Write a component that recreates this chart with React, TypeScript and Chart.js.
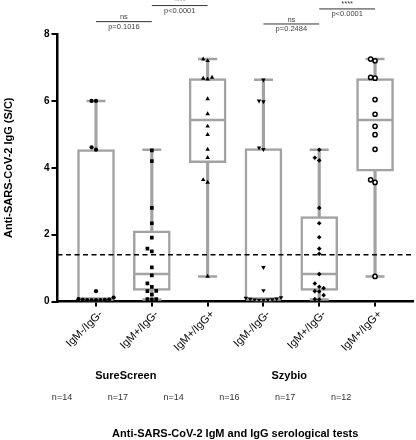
import React, { useEffect, useRef } from 'react';
import { Chart, registerables } from 'chart.js';

Chart.register(...registerables);

// ---------------- data ----------------
const categories = ['IgM-/IgG-', 'IgM+/IgG-', 'IgM+/IgG+', 'IgM-/IgG-', 'IgM+/IgG-', 'IgM+/IgG+'];
const brands = ['SureScreen', 'Szybio'];
const sampleSizes = ['n=14', 'n=17', 'n=14', 'n=16', 'n=17', 'n=12'];
const yTicks = [0, 2, 4, 6, 8];
const cutoff = 1.4;

const sureNegNeg = [6.0, 6.0, 4.61, 4.54, 0.31, 0.12, 0.07, 0.06, 0.05, 0.05, 0.04, 0.04, 0.04, 0.04];
const surePosNeg = [4.52, 4.2, 2.8, 2.34, 1.91, 1.58, 1.5, 1.02, 0.78, 0.54, 0.44, 0.32, 0.31, 0.21, 0.07, 0.07, 0.06];
const surePosPos = [7.25, 7.2, 6.7, 6.67, 6.65, 6.06, 5.61, 5.24, 4.99, 4.55, 4.3, 3.64, 3.56, 0.75];
const szyNegNeg = [6.63, 6.0, 5.98, 4.6, 4.55, 1.02, 0.33, 0.12, 0.1, 0.08, 0.07, 0.06, 0.05, 0.05, 0.04, 0.04];
const szyPosNeg = [4.54, 4.3, 4.22, 2.8, 2.34, 1.92, 1.58, 1.43, 0.82, 0.54, 0.44, 0.4, 0.31, 0.3, 0.19, 0.07, 0.06];
const szyPosPos = [7.25, 7.2, 6.7, 6.68, 6.04, 5.6, 5.24, 4.99, 4.55, 3.64, 3.56, 0.75];

const boxMin = [0.04, 0.06, 0.75, 0.04, 0.06, 0.75];
const boxQ1 = [0.06, 0.33, 4.15, 0.06, 0.33, 3.9];
const boxMedian = [0.06, 0.82, 5.43, 0.06, 0.82, 5.43];
const boxQ3 = [4.54, 2.11, 6.67, 4.57, 2.54, 6.67];
const boxMax = [6.0, 4.54, 7.25, 6.63, 4.54, 7.25];

const compFrom = [0, 1, 3, 4];
const compTo = [1, 2, 4, 5];
const compStars = ['ns', '****', 'ns', '****'];
const compP = ['p=0.1016', 'p<0.0001', 'p=0.2484', 'p<0.0001'];

const xAxisTitle = 'Anti-SARS-CoV-2 IgM and IgG serological tests';
const yAxisTitle = 'Anti-SARS-CoV-2 IgG (S/C)';

// ---------------- styling ----------------
const FONT = "'Liberation Sans', Arial, Helvetica, sans-serif";
const GRAY = '#a2a2a2';
const X_MIN = -0.69;
const X_MAX = 5.68;
const PX_PER_X = 55.8;
const PX_PER_Y = 33.44;
const compLevels = [8.37, 8.85, 8.3, 8.75];

// beeswarm-style horizontal spreading of equal-ish values (layout only)
function swarm(values: number[], center: number, diam: number, step: number) {
  const placed: { dx: number; v: number }[] = [];
  const idx = values.map((_, i) => i).sort((a, b) => values[a] - values[b]);
  const out: { x: number; y: number }[] = new Array(values.length);
  for (const i of idx) {
    const v = values[i];
    for (let k = 0; k < 60; k++) {
      const m = k === 0 ? 0 : k % 2 === 1 ? -Math.ceil(k / 2) : Math.ceil(k / 2);
      const dx = m * step;
      const ok = placed.every((p) => Math.hypot(p.dx - dx, (p.v - v) * PX_PER_Y) >= diam);
      if (ok) {
        placed.push({ dx, v });
        out[i] = { x: center + dx / PX_PER_X, y: v };
        break;
      }
    }
  }
  return out;
}

const annotations = {
  id: 'annotations',
  afterDraw(chart: any) {
    const { ctx, chartArea, scales } = chart;
    const xs = scales.x;
    const ys = scales.y;
    ctx.save();
    // significance brackets
    for (let i = 0; i < compFrom.length; i++) {
      const x1 = xs.getPixelForValue(compFrom[i]);
      const x2 = xs.getPixelForValue(compTo[i]);
      const y = ys.getPixelForValue(compLevels[i]);
      ctx.strokeStyle = '#333';
      ctx.lineWidth = 1;
      ctx.beginPath();
      ctx.moveTo(x1, y);
      ctx.lineTo(x2, y);
      ctx.stroke();
      ctx.fillStyle = '#444';
      ctx.font = `7.5px ${FONT}`;
      ctx.textAlign = 'center';
      ctx.textBaseline = 'middle';
      ctx.fillText(compStars[i], (x1 + x2) / 2, y - 4.5);
      ctx.fillText(compP[i], (x1 + x2) / 2, y + 5);
    }
    // rotated category labels
    ctx.fillStyle = '#000';
    ctx.font = `11px ${FONT}`;
    categories.forEach((c, i) => {
      ctx.save();
      ctx.translate(xs.getPixelForValue(i) + 5, chartArea.bottom + 11);
      ctx.rotate(-Math.PI / 4);
      ctx.textAlign = 'right';
      ctx.textBaseline = 'middle';
      ctx.fillText(c, 0, 0);
      ctx.restore();
    });
    ctx.textAlign = 'center';
    ctx.textBaseline = 'middle';
    // brand labels
    ctx.font = `bold 11px ${FONT}`;
    ctx.fillText(brands[0], xs.getPixelForValue(1) - 26, 376);
    ctx.fillText(brands[1], xs.getPixelForValue(4) - 30, 376);
    // sample sizes
    ctx.fillStyle = '#333';
    ctx.font = `9px ${FONT}`;
    sampleSizes.forEach((s, i) => {
      ctx.fillText(s, xs.getPixelForValue(i) - 34, 398);
    });
    // axis titles
    ctx.fillStyle = '#000';
    ctx.font = `bold 11px ${FONT}`;
    ctx.fillText(xAxisTitle, (chartArea.left + chartArea.right) / 2, 434);
    ctx.translate(9, (chartArea.top + chartArea.bottom) / 2);
    ctx.rotate(-Math.PI / 2);
    ctx.fillText(yAxisTitle, 0, 0);
    ctx.restore();
  },
};

export default function App() {
  const ref = useRef<HTMLCanvasElement>(null);
  useEffect(() => {
    if (!ref.current) return;
    Chart.defaults.font.family = FONT;
    const groups = [sureNegNeg, surePosNeg, surePosPos, szyNegNeg, szyPosNeg, szyPosPos];
    const styles: any[] = [
      { pointStyle: 'circle', radius: 2.1, bg: '#000', bc: '#000', bw: 0, rot: 0 },
      { pointStyle: 'rect', radius: 2.6, bg: '#000', bc: '#000', bw: 0, rot: 0 },
      { pointStyle: 'triangle', radius: 2.6, bg: '#000', bc: '#000', bw: 0, rot: 0 },
      { pointStyle: 'triangle', radius: 2.6, bg: '#000', bc: '#000', bw: 0, rot: 180 },
      { pointStyle: 'rectRot', radius: 2.3, bg: '#000', bc: '#000', bw: 0, rot: 0 },
      { pointStyle: 'circle', radius: 2.1, bg: '#fff', bc: '#000', bw: 1.5, rot: 0 },
    ];
    const pointSets = groups.map((g, i) => ({
      type: 'scatter' as const,
      data: swarm(g, i, 4.4, 4.4),
      pointStyle: styles[i].pointStyle,
      pointRadius: styles[i].radius,
      pointRotation: styles[i].rot,
      pointBackgroundColor: styles[i].bg,
      pointBorderColor: styles[i].bc,
      pointBorderWidth: styles[i].bw,
      order: 0,
    }));

    const chart = new Chart(ref.current, {
      type: 'scatter',
      data: {
        datasets: [
          ...pointSets,
          {
            type: 'line',
            data: [
              { x: X_MIN, y: cutoff },
              { x: X_MAX, y: cutoff },
            ],
            borderColor: '#000',
            borderWidth: 1.5,
            borderDash: [5, 3.5],
            pointRadius: 0,
            order: 1,
          },
          {
            type: 'scatter',
            data: categories.map((_, i) => ({ x: i, y: boxMedian[i] })),
            pointStyle: 'line',
            pointRadius: 17.5,
            pointBorderColor: GRAY,
            pointBorderWidth: 2.5,
            order: 2,
          },
          {
            type: 'scatter',
            data: [
              ...categories.map((_, i) => ({ x: i, y: boxMin[i] })),
              ...categories.map((_, i) => ({ x: i, y: boxMax[i] })),
            ],
            pointStyle: 'line',
            pointRadius: 9.5,
            pointBorderColor: GRAY,
            pointBorderWidth: 2.5,
            order: 2,
          },
          {
            type: 'bar',
            data: categories.map((_, i) => ({ x: i, y: [boxQ1[i], boxQ3[i]] })),
            backgroundColor: '#fff',
            borderColor: GRAY,
            borderWidth: 2.5,
            borderSkipped: false,
            barThickness: 37,
            grouped: false,
            order: 3,
          },
          {
            type: 'bar',
            data: categories.map((_, i) => ({ x: i, y: [boxMin[i], boxMax[i]] })),
            backgroundColor: GRAY,
            borderWidth: 0,
            barThickness: 2.5,
            grouped: false,
            order: 4,
          },
        ] as any,
      },
      options: {
        animation: false,
        responsive: false,
        devicePixelRatio: 1,
        layout: { autoPadding: false, padding: { top: 34, right: 3, bottom: 0, left: 0 } },
        plugins: { legend: { display: false }, tooltip: { enabled: false } },
        scales: {
          x: {
            type: 'linear',
            min: X_MIN,
            max: X_MAX,
            offset: false,
            afterBuildTicks: (s: any) => {
              s.ticks = categories.map((_, i) => ({ value: i }));
            },
            afterFit: (s: any) => {
              s.height = 138.5;
              s.paddingLeft = 0;
              s.paddingRight = 0;
            },
            ticks: { display: false },
            grid: { offset: false, drawOnChartArea: false, drawTicks: true, tickLength: 5, color: '#000', lineWidth: 2 },
            border: { display: true, color: '#000', width: 2.5 },
          },
          y: {
            type: 'linear',
            min: 0,
            max: 8,
            offset: false,
            afterBuildTicks: (s: any) => {
              s.ticks = yTicks.map((v) => ({ value: v }));
            },
            afterFit: (s: any) => {
              s.width = 57.5;
              s.paddingTop = 0;
              s.paddingBottom = 0;
            },
            ticks: { color: '#000', padding: 2, font: { size: 10, weight: 'bold', family: FONT } },
            grid: { drawOnChartArea: false, drawTicks: true, tickLength: 6, color: '#000', lineWidth: 2 },
            border: { display: true, color: '#000', width: 2.5 },
          },
        },
      },
      plugins: [annotations],
    });
    return () => chart.destroy();
  }, []);

  return (
    <div style={{ position: 'absolute', left: 0, top: 0, width: 416, height: 440, background: '#fff' }}>
      <canvas ref={ref} width={416} height={440} style={{ display: 'block' }} />
    </div>
  );
}
